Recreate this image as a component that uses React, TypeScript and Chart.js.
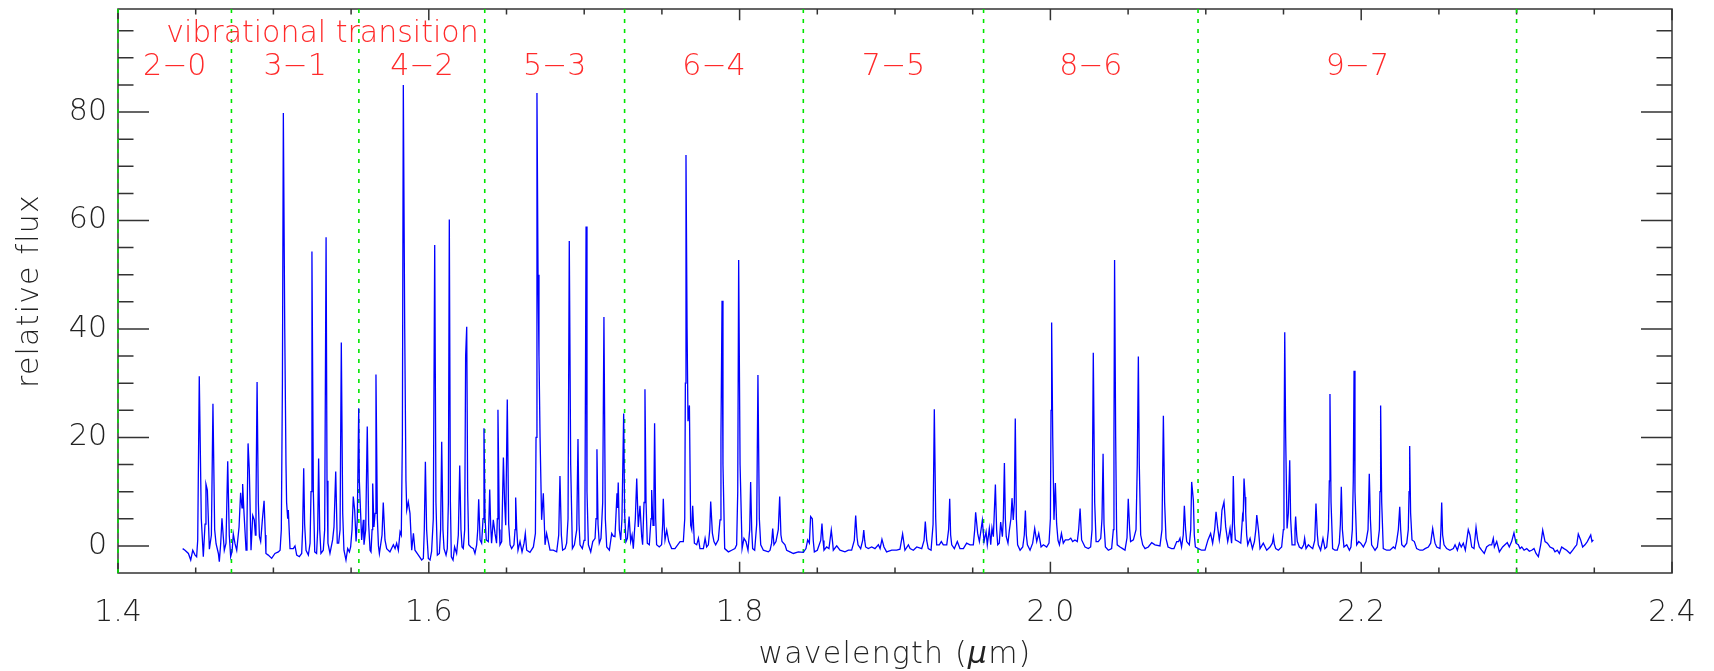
import React, { useEffect, useRef } from "react";
import { Chart, registerables } from "chart.js";

Chart.register(...registerables);

// ---- axis ranges & ticks ----
const X_MIN = 1.4;
const X_MAX = 2.4;
const Y_MIN = -5;
const Y_MAX = 99;
const xMajorTicks = [1.4, 1.6, 1.8, 2.0, 2.2, 2.4];
const xMinorTicks = [1.45, 1.5, 1.55, 1.65, 1.7, 1.75, 1.85, 1.9, 1.95, 2.05, 2.1, 2.15, 2.25, 2.3, 2.35];
const yMajorTicks = [0, 20, 40, 60, 80];
const yMinorTicks = [5, 10, 15, 25, 30, 35, 45, 50, 55, 65, 70, 75, 85, 90, 95];

// ---- vibrational band boundaries and labels ----
const bandEdges = [1.4, 1.473, 1.555, 1.636, 1.726, 1.841, 1.957, 2.095, 2.3];
const bandLabels = ["2−0", "3−1", "4−2", "5−3", "6−4", "7−5", "8−6", "9−7"];
const bandLabelX = [1.4365, 1.514, 1.5955, 1.681, 1.7835, 1.899, 2.026, 2.1975];
const bandLabelY = 86.9;
const headerText = "vibrational transition";
const headerX = 1.431;
const headerY = 93.0;

// ---- spectrum (wavelength in µm, relative flux) ----
const specA = [
  [1.4416,-0.5],[1.4431,-0.8],[1.4453,-1.4],[1.4468,-2.6],[1.4481,-0.8],[1.4496,-1.7],[1.4506,-2.0],[1.4513,1.1],[1.4523,31.3],[1.4536,5.0],[1.4549,-2.0],[1.4560,4.0],[1.4566,11.4],[1.4575,10.3],[1.4588,-0.6],[1.4601,2.0],[1.4611,26.2],[1.4622,3.0],[1.4631,0.4],[1.4646,-1.4],[1.4652,-2.9],[1.4661,0.5],[1.4669,5.1],[1.4678,1.5],[1.4684,-0.8],[1.4695,0.5],[1.4706,15.6],[1.4716,2.0],[1.4725,-2.0],[1.4734,-1.0],[1.4742,2.2],[1.4753,0.4],[1.4764,-0.8],[1.4779,3.5],[1.4789,9.8],[1.4798,7.0],[1.4802,11.4],[1.4811,6.0],[1.4824,-0.8],[1.4830,4.0],[1.4837,18.9],[1.4845,14.0],[1.4856,-0.8],[1.4867,5.6],[1.4877,4.8],[1.4884,2.0],[1.4888,8.0],[1.4895,30.2],[1.4903,8.0],[1.4910,1.7],[1.4918,0.8],[1.4929,4.8],[1.4940,8.3],[1.4948,2.0],[1.4952,-1.4],[1.4967,-1.7],[1.4989,-2.3],[1.5010,-1.4],[1.5032,-1.1],[1.5043,-0.8],[1.5051,3.0],[1.5058,30.0],[1.5064,79.8],[1.5073,40.0],[1.5081,15.0],[1.5085,8.0],[1.5092,5.0],[1.5096,6.6],[1.5103,2.0],[1.5107,-0.5],[1.5128,-0.5],[1.5139,0.0],[1.5150,-1.7],[1.5167,-2.0],[1.5182,-1.4],[1.5188,3.0],[1.5195,14.3],[1.5201,4.0],[1.5210,-0.8],[1.5225,-1.7],[1.5236,0.5],[1.5242,10.0],[1.5248,54.3],[1.5257,10.0],[1.5266,-1.1],[1.5278,-1.4],[1.5285,3.0],[1.5291,16.1],[1.5298,3.0],[1.5306,-1.4],[1.5321,-0.8],[1.5330,3.0],[1.5339,56.9],[1.5345,12.0],[1.5351,0.5],[1.5364,-1.4],[1.5381,1.1],[1.5390,3.5],[1.5401,13.7],[1.5411,0.5],[1.5420,0.5],[1.5429,3.0],[1.5437,37.5],[1.5446,6.0],[1.5454,-0.8],[1.5467,-2.6],[1.5478,-0.5],[1.5489,-1.1],[1.5497,-0.2],[1.5506,3.0],[1.5514,9.1],[1.5523,6.6],[1.5532,0.8],[1.5540,5.0],[1.5549,25.4]
];
const specB = [
  [1.5553,12.0],[1.5568,1.1],[1.5579,4.8],[1.5583,0.2],[1.5594,3.0],[1.5604,22.0],[1.5613,4.0],[1.5622,-0.8],[1.5628,-1.1],[1.5635,3.0],[1.5639,11.5],[1.5647,3.5],[1.5654,6.0],[1.5660,31.6],[1.5669,5.0],[1.5676,0.0],[1.5682,-1.4],[1.5690,0.2],[1.5699,2.0],[1.5707,8.0],[1.5718,1.1],[1.5729,-0.5],[1.5750,-1.1],[1.5772,0.2],[1.5783,-0.5],[1.5793,0.5],[1.5804,-0.8],[1.5815,2.6],[1.5823,2.0],[1.5830,20.0],[1.5836,85.0],[1.5845,40.0],[1.5853,12.0],[1.5858,6.6],[1.5868,8.1],[1.5879,6.0],[1.5890,-0.8],[1.5901,2.3],[1.5911,-0.8],[1.5933,-1.7],[1.5954,-2.6],[1.5965,-2.3],[1.5971,3.0],[1.5978,15.5],[1.5986,3.0],[1.5997,-2.3],[1.6008,-2.6],[1.6018,-1.0],[1.6029,5.0],[1.6038,55.5],[1.6046,8.0],[1.6055,-1.7],[1.6068,-1.4],[1.6076,3.0],[1.6083,19.2],[1.6091,3.0],[1.6098,-0.5],[1.6111,-1.7],[1.6119,-0.5],[1.6126,8.0],[1.6132,60.2],[1.6139,8.0],[1.6145,-2.0],[1.6156,-2.6],[1.6166,-0.2],[1.6179,-1.4],[1.6190,2.0],[1.6199,14.8],[1.6207,3.0],[1.6214,-0.2],[1.6222,-0.5],[1.6231,3.0],[1.6237,35.0],[1.6244,40.4],[1.6250,10.0],[1.6257,0.2],[1.6270,-0.2],[1.6287,-0.5],[1.6297,-1.4],[1.6308,0.2],[1.6315,3.0],[1.6321,8.6],[1.6330,1.1],[1.6340,0.5],[1.6349,5.0],[1.6355,21.7],[1.6362,5.0],[1.6370,1.1],[1.6383,0.8],[1.6392,10.4],[1.6398,4.0],[1.6404,0.5],[1.6415,4.8],[1.6426,2.3],[1.6436,0.5],[1.6441,5.0],[1.6445,25.1],[1.6454,3.0],[1.6458,0.2],[1.6469,0.8],[1.6480,16.3],[1.6488,8.0],[1.6495,3.8],[1.6505,27.0],[1.6514,4.0],[1.6523,0.2],[1.6533,-0.5],[1.6548,0.2],[1.6555,3.0],[1.6559,8.9],[1.6566,3.0],[1.6574,-0.8],[1.6587,0.8],[1.6600,-1.1],[1.6613,0.5],[1.6621,2.3],[1.6630,-0.8],[1.6651,-1.2],[1.6673,-0.2],[1.6686,2.3],[1.6690,20.0],[1.6696,83.5],[1.6703,50.0],[1.6709,35.0]
];
const specC = [
  [1.6716,20.0],[1.6726,4.8],[1.6737,9.7],[1.6748,0.2],[1.6758,2.3],[1.6769,0.8],[1.6780,-0.8],[1.6801,-0.8],[1.6823,-1.1],[1.6836,2.0],[1.6844,12.9],[1.6853,2.0],[1.6861,-0.8],[1.6877,-0.5],[1.6887,0.5],[1.6896,5.0],[1.6904,56.2],[1.6913,15.0],[1.6924,-0.5],[1.6937,0.2],[1.6952,3.0],[1.6960,19.7],[1.6967,4.0],[1.6973,0.2],[1.6988,-0.5],[1.6999,1.0],[1.7005,8.0],[1.7012,58.9],[1.7018,10.0],[1.7027,0.2],[1.7042,-1.1],[1.7055,0.8],[1.7070,1.4],[1.7076,5.0],[1.7082,17.8],[1.7089,4.0],[1.7097,0.5],[1.7108,1.4],[1.7119,8.0],[1.7127,42.2],[1.7136,5.0],[1.7145,-0.2],[1.7162,-0.8],[1.7177,2.3],[1.7187,1.8],[1.7198,1.7],[1.7211,9.7],[1.7215,7.0],[1.7219,11.7],[1.7226,3.0],[1.7235,1.1],[1.7243,5.0],[1.7254,24.4],[1.7260,6.0],[1.7269,0.8],[1.7278,1.4],[1.7289,5.4],[1.7299,0.8],[1.7308,2.0],[1.7316,-0.5],[1.7329,5.0],[1.7338,12.4],[1.7348,3.5],[1.7359,7.4],[1.7370,1.7],[1.7376,0.2],[1.7385,8.0],[1.7391,28.9],[1.7398,8.0],[1.7406,0.5],[1.7419,0.2],[1.7430,5.0],[1.7434,10.3],[1.7443,3.8],[1.7449,10.0],[1.7453,22.6],[1.7460,5.0],[1.7466,0.2],[1.7483,-0.2],[1.7498,0.2],[1.7505,4.0],[1.7509,8.7],[1.7516,3.0],[1.7520,1.1],[1.7531,2.9],[1.7544,0.8],[1.7563,-0.5],[1.7584,-0.5],[1.7617,0.8],[1.7638,0.8],[1.7647,5.0],[1.7651,30.0],[1.7655,72.1],[1.7662,40.0],[1.7668,23.0],[1.7677,25.9],[1.7685,3.8],[1.7692,3.0],[1.7698,7.4],[1.7709,0.5],[1.7724,0.2],[1.7735,1.4],[1.7745,-0.5],[1.7767,-0.5],[1.7778,1.4],[1.7788,-0.2],[1.7799,0.2],[1.7808,3.0],[1.7814,8.2],[1.7825,2.3],[1.7835,0.8],[1.7846,0.2],[1.7863,1.1],[1.7874,4.8]
];
const specD = [
  [1.7880,20.0],[1.7887,45.2],[1.7893,15.0],[1.7904,-0.5],[1.7928,-1.1],[1.7949,-0.8],[1.7970,-0.5],[1.7981,0.2],[1.7988,10.0],[1.7994,52.7],[1.8003,15.0],[1.8016,-0.5],[1.8028,1.4],[1.8041,0.8],[1.8054,-0.8],[1.8065,3.0],[1.8071,11.8],[1.8078,3.0],[1.8084,-0.5],[1.8097,-0.8],[1.8110,4.0],[1.8118,31.5],[1.8127,5.0],[1.8136,0.2],[1.8153,-0.8],[1.8185,-1.1],[1.8196,-0.8],[1.8206,0.5],[1.8213,3.2],[1.8221,0.2],[1.8234,0.8],[1.8249,3.0],[1.8258,9.1],[1.8266,2.0],[1.8273,0.8],[1.8292,0.2],[1.8303,-0.8],[1.8324,-1.1],[1.8346,-1.4],[1.8378,-1.1],[1.8410,-1.2],[1.8427,-0.5],[1.8438,1.1],[1.8449,0.5],[1.8457,5.4],[1.8468,5.0],[1.8474,1.0],[1.8481,-1.1],[1.8500,-0.8],[1.8522,1.0],[1.8530,4.1],[1.8537,1.0],[1.8543,-0.8],[1.8560,-0.2],[1.8575,-0.5],[1.8590,2.9],[1.8599,0.5],[1.8603,-0.8],[1.8625,0.0],[1.8646,-0.8],[1.8678,-1.1],[1.8700,-0.8],[1.8721,-0.8],[1.8738,1.0],[1.8747,5.6],[1.8756,1.5],[1.8762,0.2],[1.8779,-0.5],[1.8792,1.0],[1.8799,2.9],[1.8805,1.0],[1.8811,-0.2],[1.8828,-0.5],[1.8850,-0.2],[1.8871,-0.5],[1.8893,0.2],[1.8904,-0.5],[1.8916,1.2],[1.8929,-0.2],[1.8946,-1.1],[1.8979,-0.8],[1.9011,-0.8],[1.9032,-0.6]
];
const specE = [
  [1.9049,2.2],[1.9064,-0.8],[1.9086,0.2],[1.9097,-0.5],[1.9118,-0.8],[1.9140,-0.2],[1.9172,-0.5],[1.9187,1.0],[1.9195,4.5],[1.9204,1.0],[1.9214,-0.5],[1.9232,-0.8],[1.9245,4.0],[1.9253,25.2],[1.9262,5.0],[1.9268,0.2],[1.9285,0.2],[1.9298,0.8],[1.9311,0.2],[1.9333,0.2],[1.9345,3.0],[1.9352,8.7],[1.9358,2.0],[1.9365,0.2],[1.9382,-0.5],[1.9401,0.8],[1.9418,-0.5],[1.9440,-0.5],[1.9461,0.5],[1.9483,0.2],[1.9504,0.2],[1.9513,3.0],[1.9519,6.2],[1.9532,2.3],[1.9543,0.8],[1.9562,4.7],[1.9573,0.8],[1.9586,2.6],[1.9594,0.2],[1.9607,3.2],[1.9616,0.2],[1.9624,3.3],[1.9633,1.7],[1.9646,11.3],[1.9654,3.0],[1.9661,0.2],[1.9671,0.5],[1.9680,4.4],[1.9691,1.7],[1.9697,5.0],[1.9704,15.3],[1.9710,5.0],[1.9716,1.7],[1.9727,0.5],[1.9736,2.9],[1.9746,5.0],[1.9753,8.8],[1.9761,4.8],[1.9768,8.0],[1.9774,23.5],[1.9781,5.0],[1.9789,0.2],[1.9805,-0.8],[1.9822,-0.2],[1.9832,2.0],[1.9839,6.5],[1.9845,2.0],[1.9852,0.2],[1.9869,-0.8],[1.9886,0.5],[1.9899,3.2],[1.9912,0.8],[1.9925,2.3],[1.9940,-0.2],[1.9955,0.2],[1.9976,-0.2],[1.9991,0.5],[2.0000,5.0],[2.0004,25.0],[2.0008,41.2],[2.0015,20.0],[2.0023,4.8],[2.0032,11.6],[2.0040,4.1],[2.0049,1.0],[2.0058,0.2],[2.0071,2.3],[2.0083,0.5],[2.0096,1.1],[2.0116,1.1],[2.0131,1.4],[2.0143,0.8],[2.0158,1.1],[2.0173,0.8],[2.0182,3.0]
];
const specF = [
  [2.0191,6.9],[2.0201,1.1],[2.0223,-0.2],[2.0244,-0.5],[2.0259,-0.2],[2.0268,3.0],[2.0276,35.6],[2.0285,8.0],[2.0294,0.8],[2.0308,0.8],[2.0324,1.4],[2.0332,5.0],[2.0339,17.0],[2.0345,4.0],[2.0354,-0.2],[2.0373,-0.8],[2.0394,-0.5],[2.0405,3.0],[2.0409,20.0],[2.0413,52.7],[2.0420,20.0],[2.0426,3.0],[2.0430,0.2],[2.0448,-0.2],[2.0465,-0.5],[2.0480,-0.8],[2.0493,1.5],[2.0501,8.7],[2.0510,3.0],[2.0516,0.8],[2.0534,1.1],[2.0551,3.0],[2.0559,15.0],[2.0566,34.9],[2.0572,15.0],[2.0581,2.0],[2.0594,0.2],[2.0609,-0.5],[2.0630,-0.2],[2.0652,0.6],[2.0673,0.2],[2.0705,0.0],[2.0718,3.0],[2.0727,24.0],[2.0735,8.0],[2.0744,1.4],[2.0757,-0.2],[2.0780,-0.5],[2.0795,-0.5],[2.0813,0.8],[2.0825,0.8],[2.0834,1.4],[2.0844,-0.2],[2.0855,2.0],[2.0862,7.4],[2.0870,3.0],[2.0877,0.8],[2.0894,0.2],[2.0903,3.0],[2.0909,11.8],[2.0920,8.4],[2.0926,2.0],[2.0933,-0.2],[2.0952,-0.5],[2.0973,-0.8],[2.0995,-0.8],[2.1014,1.1],[2.1031,2.3],[2.1044,0.5],[2.1057,3.0],[2.1066,6.3],[2.1076,3.5],[2.1087,1.1],[2.1096,3.0],[2.1104,6.6],[2.1117,8.1],[2.1128,3.5],[2.1141,0.8],[2.1149,2.0],[2.1156,3.2],[2.1166,0.5],[2.1173,5.0],[2.1177,12.9],[2.1184,4.0],[2.1190,1.1],[2.1210,0.8],[2.1225,0.5],[2.1236,5.3],[2.1240,4.5],[2.1246,12.4],[2.1253,9.0],[2.1257,6.0],[2.1263,2.0],[2.1270,0.2],[2.1285,1.4],[2.1300,-0.5],[2.1313,0.8],[2.1322,3.0],[2.1328,5.7],[2.1339,2.9],[2.1349,-0.5]
];
const specG = [
  [2.1370,0.5],[2.1392,-0.8],[2.1413,-0.2],[2.1428,0.5],[2.1435,1.7],[2.1441,0.3],[2.1450,-0.5],[2.1467,-0.8],[2.1488,-0.2],[2.1499,3.0],[2.1503,15.0],[2.1508,39.4],[2.1514,20.0],[2.1523,3.2],[2.1531,6.0],[2.1540,15.8],[2.1546,5.0],[2.1555,0.2],[2.1568,0.2],[2.1574,3.0],[2.1578,5.4],[2.1585,2.0],[2.1589,0.8],[2.1602,-0.2],[2.1617,-0.5],[2.1630,0.2],[2.1636,1.4],[2.1645,-0.5],[2.1660,0.2],[2.1675,-0.2],[2.1688,-0.5],[2.1701,1.0],[2.1709,7.8],[2.1718,2.0],[2.1724,0.2],[2.1739,-0.8],[2.1754,1.4],[2.1767,-0.5],[2.1778,-0.2],[2.1789,3.0],[2.1795,12.0],[2.1799,28.0],[2.1806,8.0],[2.1816,-0.5],[2.1831,-0.8],[2.1846,-0.8],[2.1859,0.5],[2.1866,4.0],[2.1872,10.9],[2.1879,3.0],[2.1889,-0.2],[2.1907,0.2],[2.1924,-0.8],[2.1934,-0.2],[2.1943,3.0],[2.1949,12.0],[2.1954,32.3],[2.1960,10.0],[2.1971,0.2],[2.1984,0.8],[2.1997,0.5],[2.2014,-0.2],[2.2031,0.8],[2.2044,3.0],[2.2052,13.3],[2.2059,5.0],[2.2067,0.2],[2.2089,-0.8],[2.2104,-0.2],[2.2117,3.0],[2.2121,10.0],[2.2125,25.9],[2.2132,8.0],[2.2142,-0.5],[2.2164,-0.8],[2.2185,-0.8],[2.2207,-0.2],[2.2218,-0.5],[2.2228,0.8],[2.2239,3.0],[2.2248,7.2],[2.2254,3.0],[2.2261,0.2],[2.2276,-0.2],[2.2293,0.5],[2.2303,3.0],[2.2308,10.0],[2.2312,18.4],[2.2318,6.0],[2.2327,1.1],[2.2342,0.8],[2.2357,-0.5],[2.2378,-0.8],[2.2396,-0.8],[2.2411,-0.5],[2.2432,-0.2],[2.2447,0.5],[2.2460,3.2],[2.2469,1.5],[2.2475,0.5],[2.2486,-0.2],[2.2507,-0.5]
];
const specH = [
  [2.2513,3.0],[2.2518,8.0],[2.2524,2.0],[2.2533,0.2],[2.2550,-0.5],[2.2571,-0.8],[2.2593,-0.5],[2.2604,0.2],[2.2619,-0.8],[2.2632,0.5],[2.2644,-0.2],[2.2657,0.5],[2.2670,-0.8],[2.2689,3.0],[2.2700,2.0],[2.2711,-0.2],[2.2726,-0.5],[2.2739,3.4],[2.2749,1.1],[2.2760,-0.2],[2.2775,-0.8],[2.2792,-1.4],[2.2807,-0.2],[2.2825,0.2],[2.2840,0.2],[2.2850,1.4],[2.2857,-0.2],[2.2872,0.8],[2.2889,-1.1],[2.2910,-0.2],[2.2925,0.2],[2.2940,0.6],[2.2953,-0.2],[2.2968,0.8],[2.2983,2.4],[2.2996,0.5],[2.3011,0.2],[2.3022,-0.5],[2.3033,-0.2],[2.3048,-0.8],[2.3065,-0.5],[2.3082,-1.0],[2.3097,-0.8],[2.3112,-0.5],[2.3125,-1.4],[2.3140,-2.0],[2.3155,0.2],[2.3168,2.9],[2.3183,0.8],[2.3198,0.5],[2.3215,-0.2],[2.3236,-0.5],[2.3247,-1.1],[2.3262,-0.8],[2.3275,-1.4],[2.3290,-0.2],[2.3305,-0.5],[2.3322,-0.8],[2.3344,-1.4],[2.3361,-0.8],[2.3376,-0.2],[2.3387,0.2],[2.3397,2.2],[2.3412,1.1],[2.3425,-0.2],[2.3440,0.2],[2.3455,0.8],[2.3477,2.0],[2.3485,0.8],[2.3494,1.1]
];
const spectrum = [...specA, ...specB, ...specC, ...specD, ...specE, ...specF, ...specG, ...specH];

// ---- styles ----
const FONT_FAMILY = '"DejaVu Sans", "Liberation Sans", sans-serif';
const FONT_WEIGHT = 200;
const FONT_SIZE = 30;
const TEXT_COLOR = "#222222";
const AXIS_COLOR = "#333333";
const LINE_COLOR = "#0000ff";
const BAND_COLOR = "rgb(0,230,0)";
const LABEL_COLOR = "#ff2a2a";

const frameAndTextPlugin = {
  id: "frameAndText",
  beforeDatasetsDraw(chart: any) {
    const { ctx, chartArea: a } = chart;
    const xs = chart.scales.x;
    const ys = chart.scales.y;
    ctx.save();
    ctx.strokeStyle = AXIS_COLOR;
    ctx.lineWidth = 1.5;
    ctx.strokeRect(a.left, a.top, a.right - a.left, a.bottom - a.top);
    ctx.beginPath();
    const xTick = (vals: number[], len: number) => {
      for (const v of vals) {
        const p = xs.getPixelForValue(v);
        ctx.moveTo(p, a.bottom);
        ctx.lineTo(p, a.bottom - len);
        ctx.moveTo(p, a.top);
        ctx.lineTo(p, a.top + len);
      }
    };
    const yTick = (vals: number[], len: number) => {
      for (const v of vals) {
        const p = ys.getPixelForValue(v);
        ctx.moveTo(a.left, p);
        ctx.lineTo(a.left + len, p);
        ctx.moveTo(a.right, p);
        ctx.lineTo(a.right - len, p);
      }
    };
    xTick(xMajorTicks, 11.3);
    xTick(xMinorTicks, 5.6);
    yTick(yMajorTicks, 31);
    yTick(yMinorTicks, 15.5);
    ctx.stroke();
    ctx.restore();
  },
  afterDraw(chart: any) {
    const { ctx, chartArea: a } = chart;
    const xs = chart.scales.x;
    const ys = chart.scales.y;
    ctx.save();
    const font = `${FONT_WEIGHT} ${FONT_SIZE}px ${FONT_FAMILY}`;
    ctx.font = font;
    // band labels
    ctx.fillStyle = LABEL_COLOR;
    ctx.textBaseline = "alphabetic";
    ctx.textAlign = "center";
    bandLabels.forEach((t, i) => {
      ctx.fillText(t, xs.getPixelForValue(bandLabelX[i]), ys.getPixelForValue(bandLabelY));
    });
    ctx.textAlign = "left";
    ctx.fillText(headerText, xs.getPixelForValue(headerX), ys.getPixelForValue(headerY));

    // axis titles
    ctx.fillStyle = TEXT_COLOR;
    if ("letterSpacing" in ctx) (ctx as any).letterSpacing = "1.2px";
    ctx.save();
    ctx.translate(38, (a.top + a.bottom) / 2);
    ctx.rotate(-Math.PI / 2);
    ctx.textAlign = "center";
    ctx.textBaseline = "alphabetic";
    ctx.fillText("relative flux", 0, 0);
    ctx.restore();
    const p1 = "wavelength (";
    const p2 = "μ";
    const p3 = "m)";
    const italic = `italic ${FONT_WEIGHT} ${FONT_SIZE}px ${FONT_FAMILY}`;
    ctx.font = font;
    const w1 = ctx.measureText(p1).width;
    const w3 = ctx.measureText(p3).width;
    ctx.font = italic;
    const w2 = ctx.measureText(p2).width;
    const total = w1 + w2 + w3;
    let x0 = (a.left + a.right) / 2 - total / 2;
    const yb = 663;
    ctx.textAlign = "left";
    ctx.font = font;
    ctx.fillText(p1, x0, yb);
    x0 += w1;
    ctx.font = italic;
    ctx.fillText(p2, x0, yb);
    x0 += w2;
    ctx.font = font;
    ctx.fillText(p3, x0, yb);
    ctx.restore();
  },
};

export default function App() {
  const ref = useRef<HTMLCanvasElement | null>(null);
  useEffect(() => {
    if (!ref.current) return;
    const datasets: any[] = [
      {
        label: "spectrum",
        data: spectrum.map(([x, y]) => ({ x, y })),
        borderColor: LINE_COLOR,
        borderWidth: 1.3,
        pointRadius: 0,
        tension: 0,
        fill: false,
      },
      ...bandEdges.map((w) => ({
        label: "edge",
        data: [
          { x: w, y: Y_MIN },
          { x: w, y: Y_MAX },
        ],
        borderColor: BAND_COLOR,
        borderWidth: 1.6,
        borderDash: [4, 6],
        pointRadius: 0,
        fill: false,
        clip: 4,
      })),
    ];
    const tickFont = { family: FONT_FAMILY, size: FONT_SIZE, weight: FONT_WEIGHT as any };
    const chart = new Chart(ref.current, {
      type: "line",
      data: { datasets },
      options: {
        animation: false,
        responsive: false,
        maintainAspectRatio: false,
        layout: { padding: { top: 9, right: 42, left: 0, bottom: 0 } },
        plugins: { legend: { display: false }, tooltip: { enabled: false } },
        scales: {
          x: {
            type: "linear",
            min: X_MIN,
            max: X_MAX,
            grid: { display: false, drawTicks: false },
            border: { display: false },
            ticks: {
              font: tickFont,
              color: TEXT_COLOR,
              padding: 22,
              maxRotation: 0,
              autoSkip: false,
              callback: (v: any) => Number(v).toFixed(1),
            },
            afterBuildTicks: (s: any) => {
              s.ticks = xMajorTicks.map((value) => ({ value }));
            },
            afterFit: (s: any) => {
              s.height = 671 - 573;
              s.paddingLeft = 0;
              s.paddingRight = 0;
            },
          },
          y: {
            type: "linear",
            min: Y_MIN,
            max: Y_MAX,
            grid: { display: false, drawTicks: false },
            border: { display: false },
            ticks: {
              font: tickFont,
              color: TEXT_COLOR,
              padding: 11,
              autoSkip: false,
              callback: (v: any) => String(v),
            },
            afterBuildTicks: (s: any) => {
              s.ticks = yMajorTicks.map((value) => ({ value }));
            },
            afterFit: (s: any) => {
              s.width = 118;
              s.paddingTop = 0;
              s.paddingBottom = 0;
            },
          },
        },
      },
      plugins: [frameAndTextPlugin],
    });
    return () => chart.destroy();
  }, []);
  return (
    <div style={{ position: "fixed", left: 0, top: 0, width: 1714, height: 671, background: "#fff" }}>
      <canvas ref={ref} width={1714} height={671} style={{ display: "block" }} />
    </div>
  );
}
